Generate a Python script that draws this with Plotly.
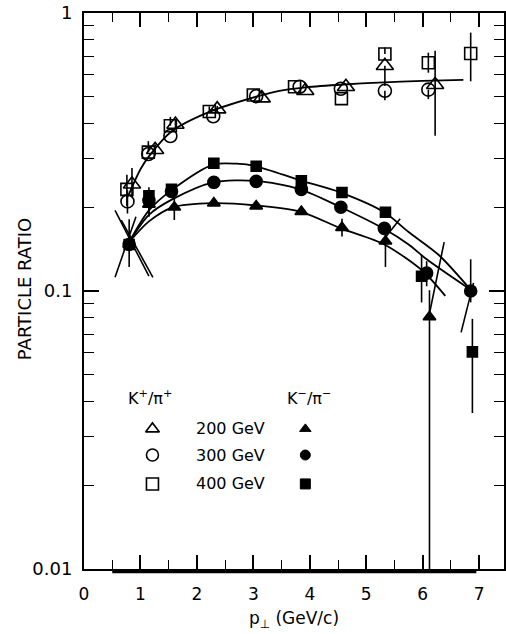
import plotly.graph_objects as go

# ---- K+/pi+ ratios (open symbols) ----
kp200_x = [0.85, 1.26, 1.62, 2.36, 3.15, 3.92, 4.64, 5.33, 6.22]
kp200_y = [0.242, 0.322, 0.397, 0.451, 0.494, 0.525, 0.543, 0.646, 0.552]
kp200_up = [0.035, 0.015, 0.015, 0.012, 0.0, 0.0, 0.0, 0.0, 0.18]
kp200_dn = [0.025, 0.015, 0.015, 0.012, 0.0, 0.0, 0.0, 0.10, 0.19]

kp300_x = [0.77, 1.14, 1.53, 2.29, 3.05, 3.82, 4.55, 5.33, 6.10]
kp300_y = [0.21, 0.311, 0.361, 0.425, 0.502, 0.543, 0.534, 0.525, 0.530]
kp300_up = [0.02, 0.0, 0.0, 0.0, 0.0, 0.0, 0.0, 0.0, 0.0]
kp300_dn = [0.02, 0.0, 0.0, 0.0, 0.0, 0.0, 0.0, 0.04, 0.04]

kp400_x = [0.76, 1.14, 1.53, 2.22, 3.00, 3.73, 4.56, 5.33, 6.10, 6.85]
kp400_y = [0.232, 0.316, 0.393, 0.442, 0.507, 0.543, 0.492, 0.712, 0.662, 0.715]
kp400_up = [0.03, 0.03, 0.03, 0.02, 0.0, 0.0, 0.0, 0.04, 0.058, 0.135]
kp400_dn = [0.03, 0.0, 0.0, 0.0, 0.0, 0.0, 0.0, 0.0, 0.052, 0.147]

# ---- K-/pi- ratios (filled symbols) ----
km200_x = [0.80, 1.15, 1.60, 2.30, 3.05, 3.85, 4.57, 5.34, 6.12]
km200_y = [0.147, 0.205, 0.200, 0.207, 0.202, 0.193, 0.169, 0.151, 0.0807]
km200_up = [0.0, 0.02, 0.015, 0.0, 0.0, 0.0, 0.013, 0.012, 0.02]
km200_dn = [0.0, 0.02, 0.02, 0.0, 0.0, 0.0, 0.012, 0.029, 0.0707]

km300_x = [0.80, 1.15, 1.55, 2.30, 3.05, 3.85, 4.55, 5.32, 6.07, 6.85]
km300_y = [0.147, 0.212, 0.228, 0.246, 0.248, 0.232, 0.200, 0.168, 0.116, 0.100]
km300_up = [0.0, 0.0, 0.0, 0.0, 0.0, 0.0, 0.0, 0.0, 0.012, 0.03]
km300_dn = [0.0, 0.0, 0.0, 0.0, 0.0, 0.0, 0.0, 0.0, 0.012, 0.009]

km400_x = [0.80, 1.15, 1.55, 2.30, 3.05, 3.85, 4.57, 5.34, 5.98, 6.88]
km400_y = [0.147, 0.220, 0.232, 0.288, 0.281, 0.249, 0.226, 0.192, 0.113, 0.0604]
km400_up = [0.034, 0.016, 0.0, 0.01, 0.0, 0.0, 0.0, 0.0, 0.022, 0.019]
km400_dn = [0.025, 0.034, 0.0, 0.0, 0.0, 0.0, 0.0, 0.0, 0.022, 0.024]

# ---- hand-drawn fit curves ----
fit_kp_x = [0.78, 1.0, 1.16, 1.55, 2.22, 3.05, 3.46, 3.93, 4.6, 5.22, 6.0, 6.72]
fit_kp_y = [0.219, 0.274, 0.307, 0.375, 0.441, 0.500, 0.525, 0.540, 0.553, 0.562, 0.570, 0.575]

fit_km400_x = [0.8, 1.15, 1.57, 2.29, 2.7, 3.05, 3.83, 4.55, 5.32, 5.75, 6.28, 6.85]
fit_km400_y = [0.15, 0.195, 0.232, 0.285, 0.287, 0.281, 0.250, 0.226, 0.192, 0.163, 0.135, 0.101]

fit_km300_x = [0.8, 1.15, 1.57, 2.29, 3.05, 3.83, 4.55, 5.32, 5.75, 6.07, 6.85]
fit_km300_y = [0.15, 0.188, 0.214, 0.246, 0.249, 0.232, 0.200, 0.167, 0.147, 0.130, 0.101]

fit_km200_x = [0.8, 1.15, 1.57, 2.29, 3.05, 3.83, 4.55, 5.32, 6.0, 6.40]
fit_km200_y = [0.15, 0.178, 0.200, 0.207, 0.203, 0.193, 0.168, 0.147, 0.118, 0.096]

# slanted uncertainty strokes: (x0, y0, x1, y1)
slant_x0 = [0.55, 0.66, 0.55, 5.25, 6.12, 6.68]
slant_y0 = [0.195, 0.180, 0.112, 0.148, 0.083, 0.071]
slant_x1 = [1.15, 1.22, 0.92, 5.60, 6.38, 6.90]
slant_y1 = [0.113, 0.112, 0.185, 0.182, 0.150, 0.107]

energies = ["200 GeV", "300 GeV", "400 GeV"]
open_symbols = ["triangle-up-open", "circle-open", "square-open"]
filled_symbols = ["triangle-up", "circle", "square"]

x_ticks = [0, 1, 2, 3, 4, 5, 6, 7]
y_ticks = [0.01, 0.1, 1]
y_ticktext = ["0.01", "0.1", "1"]

FONT = "DejaVu Sans"
INK = "black"

fig = go.Figure()

# fit curves
for cx, cy in [(fit_kp_x, fit_kp_y), (fit_km400_x, fit_km400_y),
               (fit_km300_x, fit_km300_y), (fit_km200_x, fit_km200_y)]:
    fig.add_trace(go.Scatter(x=cx, y=cy, mode="lines", line=dict(color=INK, width=1.8, shape="spline", smoothing=0.8),
                             showlegend=False, hoverinfo="skip"))

# slanted strokes
for x0, y0, x1, y1 in zip(slant_x0, slant_y0, slant_x1, slant_y1):
    fig.add_trace(go.Scatter(x=[x0, x1], y=[y0, y1], mode="lines", line=dict(color=INK, width=1.6),
                             showlegend=False, hoverinfo="skip"))

def add_points(xs, ys, up, dn, symbol, size, name):
    fig.add_trace(go.Scatter(
        x=xs, y=ys, mode="markers", name=name,
        marker=dict(symbol=symbol, size=size, color=INK,
                    line=dict(color=INK, width=1.6)),
        error_y=dict(type="data", array=up, arrayminus=dn, symmetric=False,
                     color=INK, thickness=1.6, width=0),
        showlegend=False))

add_points(kp200_x, kp200_y, kp200_up, kp200_dn, "triangle-up-open", 15, "K+/π+ 200 GeV")
add_points(kp300_x, kp300_y, kp300_up, kp300_dn, "circle-open", 13, "K+/π+ 300 GeV")
add_points(kp400_x, kp400_y, kp400_up, kp400_dn, "square-open", 12, "K+/π+ 400 GeV")
add_points(km200_x, km200_y, km200_up, km200_dn, "triangle-up", 11, "K-/π- 200 GeV")
add_points(km300_x, km300_y, km300_up, km300_dn, "circle", 12, "K-/π- 300 GeV")
add_points(km400_x, km400_y, km400_up, km400_dn, "square", 10, "K-/π- 400 GeV")

# key block drawn on an overlay axis in unit coordinates
key_rows = [0.252, 0.205, 0.153]
key_open_x = 0.163
key_filled_x = 0.527
key_text_x = 0.348
for row, so, sf, label in zip(key_rows, open_symbols, filled_symbols, energies):
    fig.add_trace(go.Scatter(x=[key_open_x], y=[row], xaxis="x2", yaxis="y2", mode="markers",
                             marker=dict(symbol=so, size=12, color=INK, line=dict(color=INK, width=1.6)),
                             showlegend=False, hoverinfo="skip"))
    fig.add_trace(go.Scatter(x=[key_filled_x], y=[row], xaxis="x2", yaxis="y2", mode="markers",
                             marker=dict(symbol=sf, size=10, color=INK, line=dict(color=INK, width=1)),
                             showlegend=False, hoverinfo="skip"))
    fig.add_annotation(x=key_text_x, y=row, xref="paper", yref="paper", text=label, showarrow=False,
                       font=dict(family=FONT, size=16, color=INK), xanchor="center", yanchor="middle")

fig.add_annotation(x=0.156, y=0.308, xref="paper", yref="paper", text="K<sup>+</sup>/π<sup>+</sup>",
                   showarrow=False, font=dict(family=FONT, size=16, color=INK), xanchor="center", yanchor="middle")
fig.add_annotation(x=0.536, y=0.308, xref="paper", yref="paper", text="K<sup>−</sup>/π<sup>−</sup>",
                   showarrow=False, font=dict(family=FONT, size=16, color=INK), xanchor="center", yanchor="middle")

# vertical axis caption
fig.add_annotation(x=-0.142, y=0.504, xref="paper", yref="paper", text="PARTICLE RATIO", textangle=-90,
                   showarrow=False, font=dict(family=FONT, size=18, color=INK), xanchor="center", yanchor="middle")

# heavy rule under the momentum axis
fig.add_shape(type="line", xref="x", yref="paper", x0=0.5, x1=6.95, y0=-0.005, y1=-0.005,
              line=dict(color=INK, width=3))

minor_y = [m * d for d in (0.01, 0.1) for m in range(2, 10)]

fig.update_layout(
    width=506, height=634,
    margin=dict(l=84, r=0, t=13, b=65),
    paper_bgcolor="white", plot_bgcolor="white",
    font=dict(family=FONT, size=17, color=INK),
    xaxis=dict(range=[0, 7.44], tickvals=x_ticks, ticks="inside", ticklen=14, tickwidth=1.6,
               tickcolor=INK, showline=True, linecolor=INK, linewidth=2, mirror="ticks",
               showgrid=False, zeroline=False, ticklabelstandoff=9,
               minor=dict(dtick=0.5, ticks="inside", ticklen=9, tickwidth=1.4, tickcolor=INK, showgrid=False),
               title=dict(text="p<sub>⊥</sub> (GeV/c)", font=dict(size=17), standoff=9)),
    yaxis=dict(type="log", range=[-2, 0], tickvals=y_ticks, ticktext=y_ticktext, ticks="inside",
               ticklen=15, tickwidth=1.6, tickcolor=INK, showline=True, linecolor=INK, linewidth=2,
               mirror="ticks", showgrid=False, zeroline=False, ticklabelstandoff=6,
               tickfont=dict(size=18),
               minor=dict(tickvals=minor_y, ticks="inside", ticklen=10, tickwidth=1.4, tickcolor=INK, showgrid=False)),
    xaxis2=dict(range=[0, 1], overlaying="x", visible=False),
    yaxis2=dict(range=[0, 1], overlaying="y", visible=False),
)

fig.write_html("out.html")
